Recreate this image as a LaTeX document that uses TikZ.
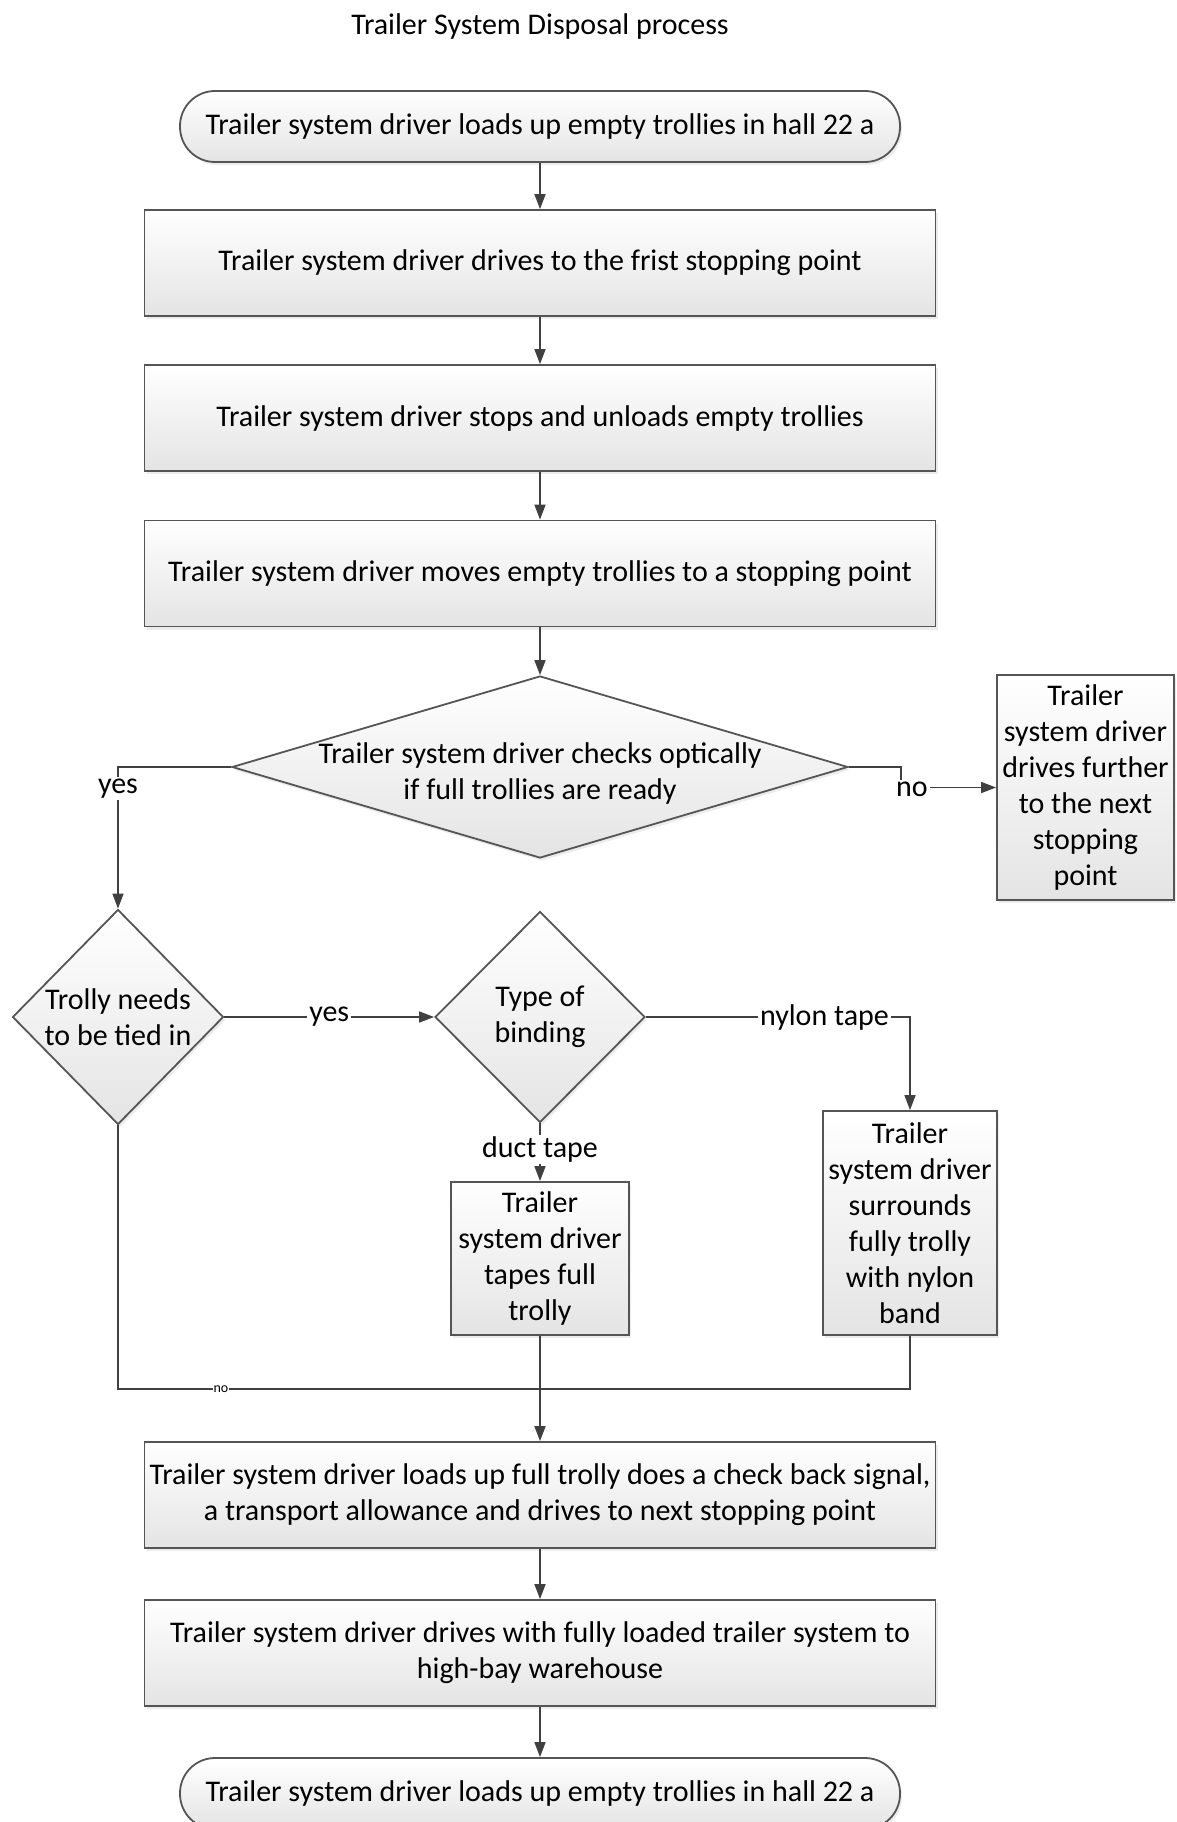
\documentclass[tikz,border=0pt]{standalone}
\usepackage{fontspec}
\setmainfont{Carlito}
\usetikzlibrary{arrows.meta,shapes.geometric,shadows}

\definecolor{linegray}{HTML}{404040}
\definecolor{boxgray}{HTML}{555555}
\definecolor{shadegray}{HTML}{E4E4E4}

\begin{document}
\begin{tikzpicture}[x=1pt,y=-1pt,
  line/.style={draw=linegray, line width=1.6pt},
  arr/.style={line, -{Triangle[length=15pt,width=11pt]}},
  txt/.style={font=\fontsize{30}{36}\selectfont, align=center, text=black},
  filled/.style={draw=boxgray, line width=1.8pt, top color=white, bottom color=shadegray,
    drop shadow={shadow xshift=2pt, shadow yshift=-3pt, opacity=0.15}},
  stepbox/.style={filled, rectangle, inner sep=0pt, txt},
  terminal/.style={filled, rectangle, rounded corners=35pt, minimum width=720pt,
    minimum height=71pt, inner sep=0pt, txt},
  decision/.style={filled, diamond, inner sep=0pt},
  lbl/.style={fill=white, inner sep=2pt, txt},
  smalllbl/.style={fill=white, inner sep=1pt, font=\fontsize{14}{16}\selectfont},
]
\useasboundingbox (0,0) rectangle (1176,1822);

% title
\node[txt] (title) at (540,27) {Trailer System Disposal process};

% main column
\node[terminal] (start) at (540,126.5) {Trailer system driver loads up empty trollies in hall 22 a};
\node[stepbox, minimum width=791pt, minimum height=106pt] (s1) at (540,263)
  {Trailer system driver drives to the frist stopping point};
\node[stepbox, minimum width=791pt, minimum height=106pt] (s2) at (540,418)
  {Trailer system driver stops and unloads empty trollies};
\node[stepbox, minimum width=791pt, minimum height=106pt] (s3) at (540,573.5)
  {Trailer system driver moves empty trollies to a stopping point};

\node[decision, minimum width=616pt, minimum height=182pt,
  label={[txt, yshift=-6pt]center:Trailer system driver checks optically\\if full trollies are ready}]
  (d1) at (540,767) {};

\node[stepbox, minimum width=177pt, minimum height=225pt] (next) at (1085.5,787.5)
  {Trailer\\system driver\\drives further\\to the next\\stopping\\point};

\node[decision, minimum width=211pt, minimum height=215pt,
  label={[txt]center:Trolly needs\\to be tied in}]
  (d2) at (118,1017) {};
\node[decision, minimum width=210pt, minimum height=211pt,
  label={[txt]center:Type of\\binding}]
  (d3) at (540,1017) {};

\node[stepbox, minimum width=178pt, minimum height=153pt] (duct) at (540,1258.5)
  {Trailer\\system driver\\tapes full\\trolly};
\node[stepbox, minimum width=174pt, minimum height=224pt] (nylon) at (910,1223)
  {Trailer\\system driver\\surrounds\\fully trolly\\with nylon\\band};

\node[stepbox, minimum width=791pt, minimum height=106pt] (s4) at (540,1495)
  {Trailer system driver loads up full trolly does a check back signal,\\a transport allowance and drives to next stopping point};
\node[stepbox, minimum width=791pt, minimum height=106pt] (s5) at (540,1653)
  {Trailer system driver drives with fully loaded trailer system to\\high-bay warehouse};
\node[terminal] (finish) at (540,1793.5) {Trailer system driver loads up empty trollies in hall 22 a};

\coordinate (merge) at (540,1389);

% connectors
\draw[arr] (start) -- (s1);
\draw[arr] (s1) -- (s2);
\draw[arr] (s2) -- (s3);
\draw[arr] (s3) -- (d1);
\draw[arr] (d1.west) -| node[lbl, pos=0.575] {yes} (d2.north);
\draw[arr] (d1.east) -- ++(52,0) |- node[lbl, pos=0.5, xshift=11pt, yshift=-2pt] {no} (next.west);
\draw[arr] (d2.east) -- node[lbl] {yes} (d3.west);
\draw[arr] (d3.east) -| node[lbl, pos=0.338] {nylon tape} (nylon.north);
\draw[arr] (d3.south) -- node[lbl, pos=0.45] {duct tape} (duct.north);
\draw[line] (d2.south) |- node[smalllbl, pos=0.622] {no} (merge);
\draw[line] (nylon.south) |- (merge);
\draw[arr] (duct.south) -- (s4.north);
\draw[arr] (s4) -- (s5);
\draw[arr] (s5) -- (finish);
\end{tikzpicture}
\end{document}
